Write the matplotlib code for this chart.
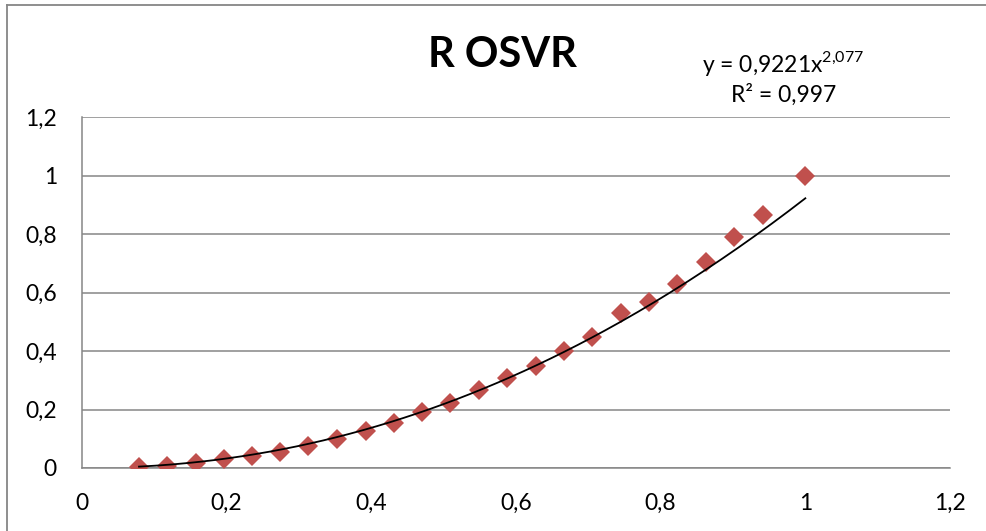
import numpy as np
import matplotlib
matplotlib.use("Agg")
import matplotlib.pyplot as plt
from matplotlib.lines import Line2D

plt.rcParams['font.family'] = ['Lato', 'DejaVu Sans']
plt.rcParams['mathtext.fontset'] = 'custom'
plt.rcParams['mathtext.rm'] = 'Lato'

title = "R OSVR"
x_vals = [0.0788, 0.118, 0.157, 0.196, 0.235, 0.274, 0.313, 0.353, 0.392,
          0.431, 0.470, 0.509, 0.549, 0.588, 0.627, 0.666, 0.705, 0.745,
          0.784, 0.823, 0.862, 0.901, 0.941, 1.0]
y_vals = [0.003, 0.008, 0.017, 0.030, 0.040, 0.056, 0.075, 0.099, 0.127,
          0.155, 0.190, 0.222, 0.267, 0.306, 0.349, 0.400, 0.447, 0.529,
          0.566, 0.630, 0.705, 0.790, 0.864, 1.0]
fit_a = 0.9221
fit_b = 2.077
eq_text = r"y = 0,9221x$^{\mathrm{2{,}077}}$"
r2_text = "R² = 0,997"
x_ticks = [0, 0.2, 0.4, 0.6, 0.8, 1.0, 1.2]
x_tick_labels = ["0", "0,2", "0,4", "0,6", "0,8", "1", "1,2"]
y_ticks = [0, 0.2, 0.4, 0.6, 0.8, 1.0, 1.2]
y_tick_labels = ["0", "0,2", "0,4", "0,6", "0,8", "1", "1,2"]

W, H = 986, 531
fig = plt.figure(figsize=(W / 100, H / 100), dpi=100)
ax = fig.add_axes([82 / W, 1 - 468 / H, (950 - 82) / W, (468 - 117) / H])

gray = "#868686"
ax.set_xlim(0, 1.2)
ax.set_ylim(0, 1.2)
ax.set_xticks(x_ticks)
ax.set_xticklabels(x_tick_labels)
ax.set_yticks(y_ticks)
ax.set_yticklabels(y_tick_labels)
ax.tick_params(length=0, labelsize=16.5, colors="black")
ax.tick_params(axis='x', pad=18)
ax.tick_params(axis='y', pad=18)
ax.grid(axis='y', color=gray, linewidth=1.1)
ax.set_axisbelow(True)
for s in ['top', 'right']:
    ax.spines[s].set_visible(False)
for s in ['left', 'bottom']:
    ax.spines[s].set_color(gray)
    ax.spines[s].set_linewidth(1.1)

ax.plot(x_vals, y_vals, linestyle='none', marker='D', markersize=10.5,
        color="#C0504D", markeredgewidth=0, zorder=3)

xf = np.linspace(min(x_vals), max(x_vals), 200)
ax.plot(xf, fit_a * xf ** fit_b, color="black", linewidth=1.3, zorder=4)

fig.text(502 / W, 1 - 55 / H, title, ha='center', va='center',
         fontsize=30, fontweight='bold')
fig.text(783.5 / W, 1 - 71.7 / H, eq_text, ha='center', va='baseline', fontsize=16.5)
fig.text(784 / W, 1 - 101.7 / H, r2_text, ha='center', va='baseline', fontsize=16.5)

# outer chart border (top and left visible)
fig.add_artist(Line2D([6.5 / W, 1.0], [1 - 4.5 / H, 1 - 4.5 / H],
                      transform=fig.transFigure, color=gray, linewidth=1.3))
fig.add_artist(Line2D([6.5 / W, 6.5 / W], [0, 1 - 4.5 / H],
                      transform=fig.transFigure, color=gray, linewidth=1.3))

fig.savefig("out.png", dpi=100)
